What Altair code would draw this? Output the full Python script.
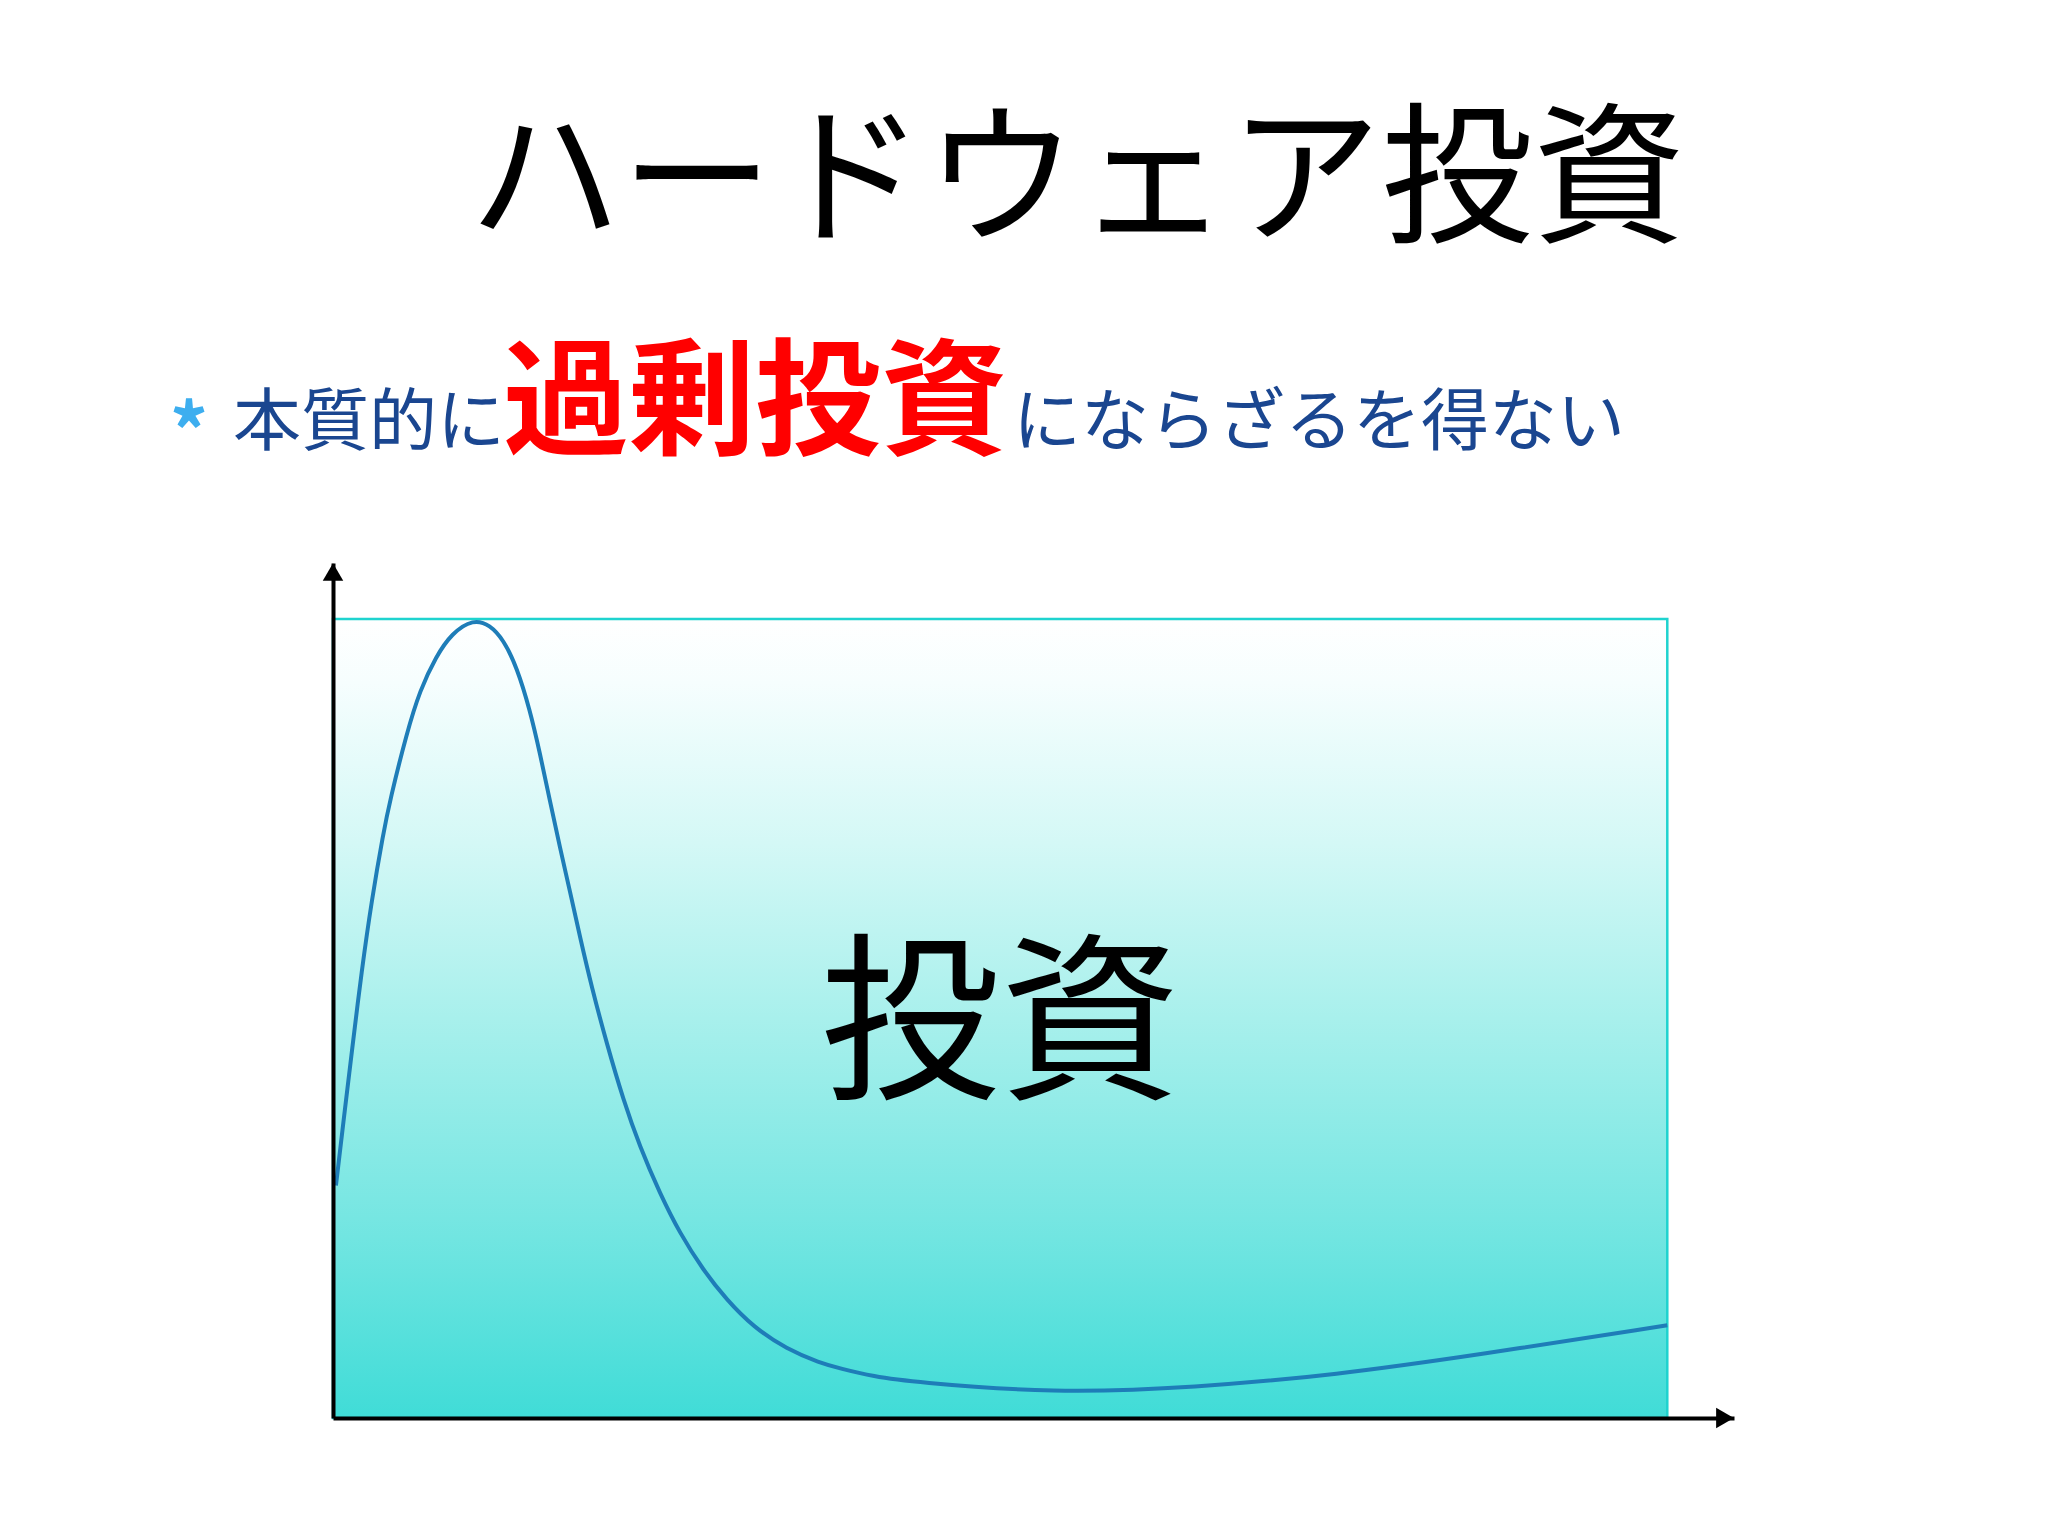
import altair as alt
import pandas as pd

# ---- data ----
curve_x = [0.22, 0.82, 1.40, 2.15, 2.90, 3.77, 4.27, 5.52, 6.52, 7.72, 8.9, 10.51, 11.77,
           12.77, 13.77, 14.76, 15.51, 16.26, 17.01, 17.76, 18.51, 19.39, 20.51, 21.76,
           23.0, 24.5, 26.0, 27.75, 29.5, 31.5, 34.0, 36.5, 38.0, 40.5, 43.4, 54.0, 64.6,
           75.2, 85.8, 100.0]
curve_y = [29.1, 37.6, 45.7, 56.0, 64.8, 73.2, 77.3, 85.7, 91.1, 95.3, 98.2, 100.0, 99.25,
           97.4, 94.0, 88.6, 83.2, 77.2, 71.4, 65.9, 60.2, 53.9, 46.9, 39.8,
           33.95, 28.1, 23.1, 18.5, 14.8, 11.4, 8.6, 6.9, 6.2, 5.2, 4.5, 3.1, 3.8,
           5.4, 7.9, 11.6]

panel_x = [0]
panel_x2 = [100]
panel_y = [0]
panel_y2 = [100]

x_domain = [0, 105]
y_domain = [0, 107]

title_text = ["ハードウェア投資"]
bullet_text = ["*"]
sub_before = ["本質的に"]
sub_emph = ["過剰投資"]
sub_after = ["にならざるを得ない"]
center_label = ["投資"]

FONT = "Noto Sans CJK JP"

curve_df = pd.DataFrame({"t": curve_x, "v": curve_y})
panel_df = pd.DataFrame({"x": panel_x, "x2": panel_x2, "y": panel_y, "y2": panel_y2})
x_tip_df = pd.DataFrame({"x": [x_domain[1]], "y": [y_domain[0]]})
y_tip_df = pd.DataFrame({"x": [x_domain[0]], "y": [y_domain[1]]})

xs = alt.Scale(domain=x_domain, nice=False, zero=False)
ys = alt.Scale(domain=y_domain, nice=False, zero=False)
ax = alt.Axis(domain=True, domainColor="black", domainWidth=4, ticks=False,
              labels=False, grid=False, title=None, zindex=2)

gradient = alt.Gradient(
    gradient="linear",
    x1=0, y1=0, x2=0, y2=1,
    stops=[
        alt.GradientStop(color="#FFFFFF", offset=0.0),
        alt.GradientStop(color="#F6FEFE", offset=0.08),
        alt.GradientStop(color="#D4F8F6", offset=0.28),
        alt.GradientStop(color="#A8F0EC", offset=0.5),
        alt.GradientStop(color="#76E6E2", offset=0.75),
        alt.GradientStop(color="#40DCD7", offset=1.0),
    ],
)

panel = alt.Chart(panel_df).mark_rect(fill=gradient, stroke="#1FD3CF", strokeWidth=2.5).encode(
    x=alt.X("x:Q", scale=xs, axis=ax),
    x2="x2:Q",
    y=alt.Y("y:Q", scale=ys, axis=ax),
    y2="y2:Q",
)

curve = alt.Chart(curve_df).mark_line(color="#1E7DB8", strokeWidth=4, interpolate="basis").encode(
    x=alt.X("t:Q", scale=xs),
    y=alt.Y("v:Q", scale=ys),
)

x_tip = alt.Chart(x_tip_df).mark_point(shape="triangle-right", filled=True, color="black",
                                        size=420, opacity=1, xOffset=-9).encode(
    x=alt.X("x:Q", scale=xs), y=alt.Y("y:Q", scale=ys))
y_tip = alt.Chart(y_tip_df).mark_point(shape="triangle-up", filled=True, color="black",
                                        size=420, opacity=1, yOffset=9).encode(
    x=alt.X("x:Q", scale=xs), y=alt.Y("y:Q", scale=ys))


def label(texts, px, py, size, color, align="left", baseline="alphabetic", weight="normal"):
    return alt.Chart(pd.DataFrame({"s": texts})).mark_text(
        font=FONT, fontSize=size, color=color, align=align, baseline=baseline,
        fontWeight=weight,
    ).encode(x=alt.value(px), y=alt.value(py), text="s:N")


title = label(title_text, 744, -378, 152, "black", align="center", baseline="middle")
bullet = label(bullet_text, -144, -103, 76, "#3DAEEF", align="center", weight="bold")
s1 = label(sub_before, -100, -118, 68, "#1A4690")
s2 = label(sub_emph, 170, -118, 126, "#FF0000", weight="bold")
s3 = label(sub_after, 680, -118, 68, "#1A4690")
center = label(center_label, 667, 468, 180, "black", align="center", baseline="middle")

chart = alt.layer(panel, curve, x_tip, y_tip, center, title, bullet, s1, s2, s3).properties(
    width=1401, height=855,
    padding={"left": 325, "top": 555, "right": 306, "bottom": 110},
    autosize=alt.AutoSizeParams(type="none"),
    background="white",
).configure_view(stroke=None)

chart.save("out.html", embed_options={"renderer": "svg", "actions": False})
